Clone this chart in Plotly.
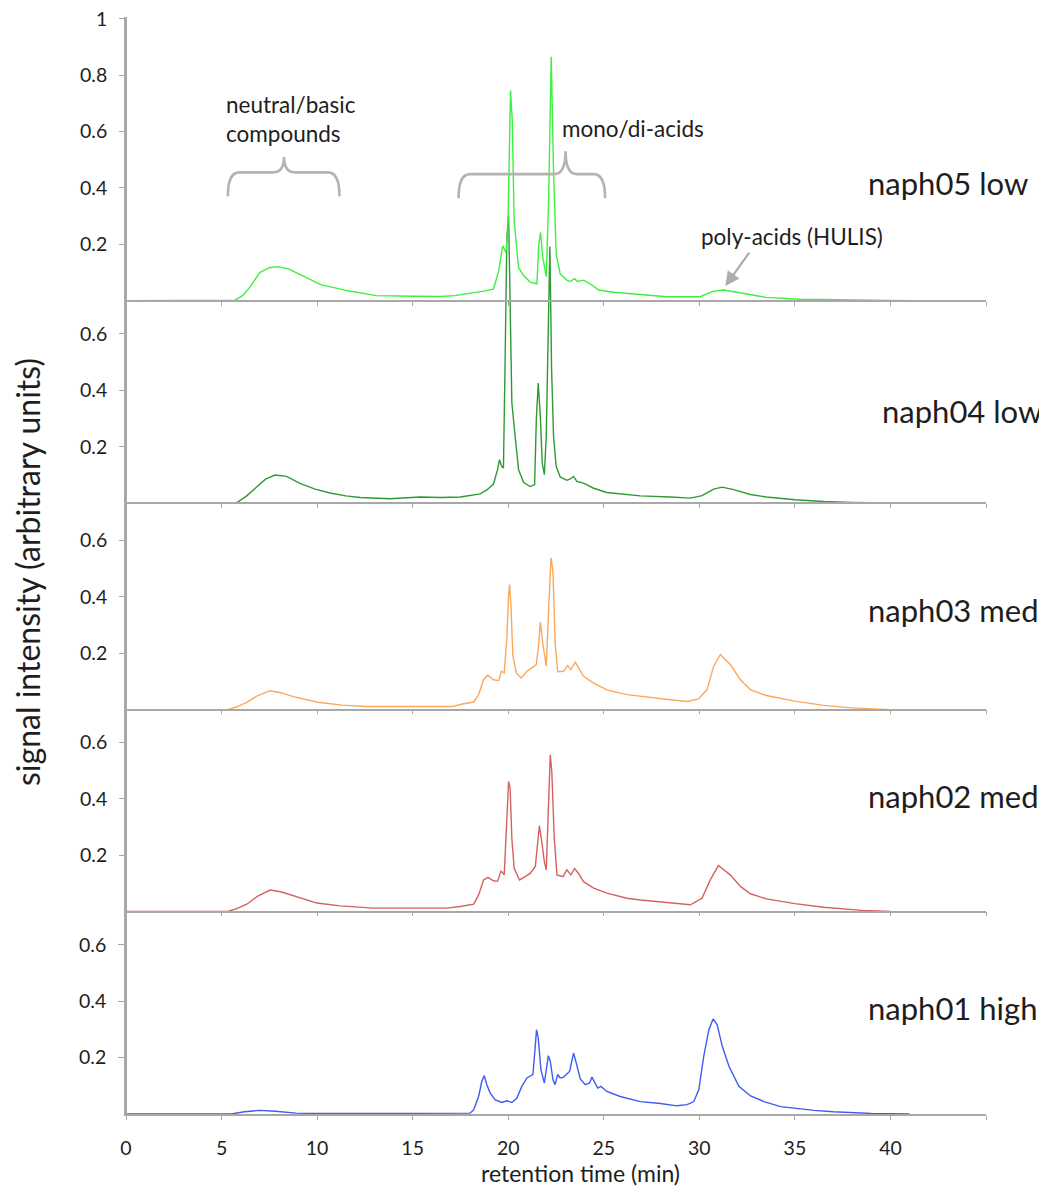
import plotly.graph_objects as go

# ---------------- data ----------------
time_naph05 = [0, 5.0, 5.7, 6.1, 6.5, 7.0, 7.5, 7.96, 8.5, 9.2, 10.2, 11.55, 13.1, 15.0, 16.44, 17.2,
               17.8, 18.19, 18.8, 19.23, 19.5, 19.71, 19.88, 19.98, 20.05, 20.12, 20.21, 20.31, 20.54,
               20.8, 21.15, 21.5, 21.6, 21.69, 21.81, 21.99, 22.11, 22.2, 22.25, 22.37, 22.51, 22.72,
               23.07, 23.24, 23.47, 23.63, 23.94, 24.29, 24.73, 25.51, 26.5, 27.5, 28.3, 30.05, 30.7,
               31.27, 32.1, 33.5, 35.3, 37.5, 39.6, 41.0]
signal_naph05 = [0, 0, 0.002, 0.018, 0.05, 0.1, 0.117, 0.121, 0.113, 0.09, 0.057, 0.036, 0.018, 0.016,
                 0.015, 0.018, 0.024, 0.027, 0.035, 0.041, 0.106, 0.195, 0.171, 0.25, 0.58, 0.745, 0.64,
                 0.284, 0.118, 0.089, 0.066, 0.06, 0.2, 0.242, 0.153, 0.085, 0.343, 0.70, 0.865, 0.46,
                 0.166, 0.095, 0.073, 0.068, 0.078, 0.068, 0.073, 0.06, 0.038, 0.030, 0.024, 0.018,
                 0.014, 0.014, 0.033, 0.038, 0.028, 0.012, 0.005, 0.003, 0.002, 0]

time_naph04 = [0, 5.0, 5.8, 6.3, 6.84, 7.3, 7.8, 8.4, 9.1, 9.9, 10.68, 11.5, 12.25, 13.8, 15.4, 16.44,
               17.5, 18.53, 18.88, 19.23, 19.44, 19.54, 19.66, 19.75, 19.83, 19.93, 20.02, 20.1, 20.19,
               20.36, 20.54, 20.8, 21.15, 21.38, 21.47, 21.57, 21.68, 21.78, 21.89, 21.99, 22.1, 22.18,
               22.27, 22.37, 22.51, 22.72, 23.07, 23.24, 23.42, 23.59, 23.94, 24.47, 25.16, 26.21,
               26.91, 28.48, 29.53, 30.14, 30.75, 31.19, 31.8, 32.67, 33.5, 35.0, 36.5, 38.0, 41.0]
signal_naph04 = [0, 0, 0.002, 0.025, 0.056, 0.085, 0.10, 0.095, 0.07, 0.05, 0.036, 0.026, 0.02, 0.016,
                 0.022, 0.02, 0.022, 0.033, 0.047, 0.068, 0.119, 0.154, 0.13, 0.125, 0.473, 0.946, 1.02,
                 0.71, 0.356, 0.238, 0.119, 0.074, 0.059, 0.066, 0.296, 0.426, 0.308, 0.142, 0.101,
                 0.238, 0.71, 0.91, 0.473, 0.238, 0.13, 0.093, 0.081, 0.086, 0.095, 0.077, 0.071, 0.053,
                 0.038, 0.03, 0.026, 0.022, 0.018, 0.027, 0.05, 0.057, 0.048, 0.031, 0.022, 0.012,
                 0.006, 0.003, 0]

time_naph03 = [0, 5.0, 5.36, 5.8, 6.32, 6.9, 7.54, 8.1, 8.76, 9.4, 10.16, 11.3, 12.6, 15.0, 17.1, 17.6,
               18.19, 18.45, 18.71, 18.92, 19.23, 19.5, 19.64, 19.79, 19.93, 20.02, 20.07, 20.14, 20.24,
               20.42, 20.68, 20.98, 21.24, 21.47, 21.59, 21.68, 21.82, 21.99, 22.11, 22.24, 22.34,
               22.46, 22.59, 22.9, 23.11, 23.28, 23.51, 23.68, 23.94, 24.47, 25.16, 26.21, 26.91,
               28.48, 29.35, 29.96, 30.4, 30.75, 31.1, 31.62, 32.15, 32.67, 33.5, 35.0, 36.5, 38.0, 40.0]
signal_naph03 = [0, 0, 0.001, 0.01, 0.026, 0.05, 0.067, 0.06, 0.046, 0.036, 0.025, 0.016, 0.011, 0.011,
                 0.011, 0.02, 0.027, 0.053, 0.106, 0.122, 0.106, 0.103, 0.136, 0.13, 0.254, 0.408,
                 0.443, 0.372, 0.195, 0.13, 0.112, 0.136, 0.148, 0.16, 0.23, 0.311, 0.23, 0.154, 0.349,
                 0.538, 0.49, 0.23, 0.134, 0.136, 0.157, 0.142, 0.168, 0.148, 0.118, 0.094, 0.07,
                 0.053, 0.047, 0.035, 0.029, 0.038, 0.071, 0.154, 0.195, 0.16, 0.106, 0.071, 0.05,
                 0.03, 0.015, 0.006, 0]

time_naph02 = [0, 5.0, 5.36, 5.8, 6.32, 6.9, 7.54, 8.1, 8.76, 9.99, 11.2, 12.95, 15.0, 16.8, 17.49,
               18.19, 18.45, 18.71, 18.94, 19.23, 19.44, 19.62, 19.79, 19.9, 20.02, 20.1, 20.19, 20.31,
               20.59, 20.89, 21.15, 21.42, 21.54, 21.63, 21.73, 21.89, 21.99, 22.11, 22.2, 22.28,
               22.41, 22.55, 22.87, 23.07, 23.28, 23.47, 23.68, 23.94, 24.47, 25.16, 26.21, 26.91,
               28.48, 29.53, 30.14, 30.57, 31.0, 31.62, 32.15, 32.67, 33.5, 35.0, 36.5, 37.5, 38.5, 40.0]
signal_naph02 = [0, 0, 0.001, 0.01, 0.026, 0.055, 0.076, 0.07, 0.056, 0.03, 0.02, 0.012, 0.012, 0.012,
                 0.018, 0.026, 0.059, 0.112, 0.121, 0.109, 0.107, 0.144, 0.130, 0.319, 0.461, 0.437,
                 0.26, 0.153, 0.112, 0.124, 0.135, 0.16, 0.236, 0.304, 0.26, 0.177, 0.148, 0.378, 0.556,
                 0.497, 0.26, 0.13, 0.124, 0.148, 0.13, 0.153, 0.135, 0.106, 0.083, 0.065, 0.047, 0.041,
                 0.032, 0.024, 0.047, 0.112, 0.163, 0.13, 0.089, 0.063, 0.045, 0.028, 0.015, 0.01,
                 0.004, 0]

time_naph01 = [0, 5.5, 6.2, 7.0, 7.8, 8.9, 10.0, 16.0, 18.0, 18.19, 18.45, 18.62, 18.75, 18.88, 19.06,
               19.32, 19.67, 19.93, 20.19, 20.45, 20.71, 20.98, 21.29, 21.4, 21.48, 21.57, 21.71,
               21.89, 21.99, 22.1, 22.2, 22.34, 22.45, 22.59, 22.72, 22.9, 23.21, 23.33, 23.42, 23.56,
               23.77, 24.03, 24.26, 24.38, 24.5, 24.68, 24.85, 25.16, 25.86, 26.91, 27.96, 28.83,
               29.36, 29.71, 29.97, 30.23, 30.5, 30.72, 30.93, 31.2, 31.55, 32.07, 32.68, 33.38,
               34.25, 35.0, 36.0, 37.0, 38.0, 39.0, 41.0]
signal_naph01 = [0, 0, 0.008, 0.013, 0.01, 0.003, 0.002, 0.002, 0.003, 0.015, 0.062, 0.116, 0.136,
                 0.104, 0.074, 0.05, 0.041, 0.047, 0.041, 0.056, 0.098, 0.128, 0.14, 0.228, 0.299,
                 0.27, 0.157, 0.11, 0.157, 0.207, 0.187, 0.122, 0.104, 0.14, 0.128, 0.131, 0.151,
                 0.187, 0.216, 0.181, 0.124, 0.104, 0.11, 0.131, 0.116, 0.092, 0.098, 0.08, 0.062,
                 0.044, 0.037, 0.029, 0.033, 0.044, 0.086, 0.204, 0.299, 0.337, 0.317, 0.24, 0.169,
                 0.098, 0.064, 0.044, 0.026, 0.02, 0.013, 0.008, 0.004, 0.002, 0]

sample_labels = ["naph05 low", "naph04 low", "naph03 med", "naph02 med", "naph01 high"]
x_tick_values = [0, 5, 10, 15, 20, 25, 30, 35, 40, 45]
x_tick_labels = ["0", "5", "10", "15", "20", "25", "30", "35", "40", ""]
top_y_ticks = [0.2, 0.4, 0.6, 0.8, 1.0]
top_y_labels = ["0.2", "0.4", "0.6", "0.8", "1"]
low_y_ticks = [0.2, 0.4, 0.6]
low_y_labels = ["0.2", "0.4", "0.6"]

# ---------------- styling / layout constants ----------------
colors = ["#3DF03D", "#2E9A33", "#F9A85E", "#D3625F", "#3D5CF2"]
times = [time_naph05, time_naph04, time_naph03, time_naph02, time_naph01]
signals = [signal_naph05, signal_naph04, signal_naph03, signal_naph02, signal_naph01]
offsets = [2.884, 2.166, 1.434, 0.718, 0.0]          # panel baselines (in signal units) top->bottom
label_pos = [(866, 183), (880, 411), (866, 610), (866, 796), (866, 1008)]  # page px (left, middle)

BODY = 8                       # default page body margin around the plot div
PL, PT, PR, PB = 126, 17, 986, 1114   # plot area in page pixels
W, H = 1038, 1179
ML, MT = PL - BODY, PT - BODY
MR, MB = W - (PR - BODY), H - (PB - BODY)
PW, PH = PR - PL, PB - PT
PX_PER_UNIT = 282.0
TOTAL = PH / PX_PER_UNIT

AXIS_COL = "#A8A8A8"
TXT_COL = "#1E1E1E"
FONT = "Lato"


def paper_x(px):
    return (px - PL) / PW


def paper_y(py):
    return (PB - py) / PH


fig = go.Figure()
layout = dict(
    width=W, height=H,
    margin=dict(l=ML, r=MR, t=MT, b=MB, autoexpand=False),
    paper_bgcolor="white", plot_bgcolor="white",
    showlegend=False,
    font=dict(family=FONT, size=18, color=TXT_COL),
)

for i in range(5):
    n = 5 - i
    xa = "x" if n == 1 else f"x{n}"
    ya = "y" if n == 1 else f"y{n}"
    fig.add_trace(go.Scatter(x=times[i], y=signals[i], mode="lines",
                             line=dict(color=colors[i], width=1.4),
                             xaxis=xa, yaxis=ya, name=sample_labels[i],
                             hoverinfo="skip"))
    off = offsets[i]
    is_top = (i == 0)
    yax = dict(
        range=[-off, TOTAL - off], domain=[0, 1],
        tickmode="array",
        tickvals=top_y_ticks if is_top else low_y_ticks,
        ticktext=top_y_labels if is_top else low_y_labels,
        ticks="outside", ticklen=6, tickwidth=1.3, tickcolor=AXIS_COL,
        showline=True, linecolor=AXIS_COL, linewidth=1.6,
        showgrid=False, zeroline=False,
        tickfont=dict(family=FONT, size=19.5, color=TXT_COL),
        ticklabelstandoff=8, ticklabeloverflow="allow",
        automargin=False, fixedrange=True,
    )
    xax = dict(
        range=[0, 45], domain=[0, 1],
        tickmode="array", tickvals=x_tick_values, ticktext=x_tick_labels,
        ticks="outside", ticklen=4, tickwidth=1.3, tickcolor=AXIS_COL,
        showline=True, linecolor=AXIS_COL, linewidth=1.6,
        showgrid=False, zeroline=False,
        tickfont=dict(family=FONT, size=19.5, color=TXT_COL),
        showticklabels=(n == 1), ticklabelstandoff=12, ticklabeloverflow="allow",
        automargin=False, fixedrange=True,
    )
    if n == 1:
        yax.update(anchor="x", side="left")
        xax.update(anchor="y")
        layout["yaxis"] = yax
        layout["xaxis"] = xax
    else:
        yax.update(overlaying="y", anchor="free", position=0, side="left")
        xax.update(overlaying="x", anchor="free", position=off / TOTAL, side="bottom")
        layout[f"yaxis{n}"] = yax
        layout[f"xaxis{n}"] = xax

fig.update_layout(**layout)


def brace(x0, x1, xt, yb, yh, ytip, dx):
    return (f"M {x0},{yb} Q {x0},{yh} {x0+dx},{yh} L {xt-dx},{yh} "
            f"Q {xt},{yh} {xt},{ytip} Q {xt},{yh} {xt+dx},{yh} "
            f"L {x1-dx},{yh} Q {x1},{yh} {x1},{yb}")


brace_style = dict(type="path", xref="x5", yref="y5",
                   line=dict(color="#B3B3B3", width=2.6), layer="above")
fig.add_shape(path=brace(5.33, 11.17, 8.27, 0.37, 0.455, 0.51, 0.6), **brace_style)
fig.add_shape(path=brace(17.4, 25.07, 23.0, 0.363, 0.449, 0.53, 0.6), **brace_style)

ann_font = dict(family=FONT, size=22.5, color=TXT_COL)
fig.add_annotation(x=8.64, y=0.646, xref="x5", yref="y5", text="neutral/basic<br>compounds",
                   showarrow=False, font=ann_font, align="left",
                   xanchor="center", yanchor="middle")
fig.add_annotation(x=26.54, y=0.612, xref="x5", yref="y5", text="mono/di-acids",
                   showarrow=False, font=ann_font, xanchor="center", yanchor="middle")
fig.add_annotation(x=34.87, y=0.229, xref="x5", yref="y5", text="poly-acids (HULIS)",
                   showarrow=False, font=ann_font, xanchor="center", yanchor="middle")
# arrow to the HULIS hump
fig.add_annotation(x=31.36, y=0.052, xref="x5", yref="y5", text="", showarrow=True,
                   ax=25, ay=-35, arrowhead=2, arrowsize=1.3, arrowwidth=2.2,
                   arrowcolor="#ADADAD")

for i, lab in enumerate(sample_labels):
    px, py = label_pos[i]
    fig.add_annotation(x=paper_x(px), y=paper_y(py), xref="paper", yref="paper",
                       text=lab, showarrow=False, xanchor="left", yanchor="middle",
                       font=dict(family=FONT, size=31, color=TXT_COL))

fig.add_annotation(x=paper_x(27), y=paper_y(572), xref="paper", yref="paper",
                   text="signal intensity (arbitrary units)", textangle=-90, showarrow=False,
                   xanchor="center", yanchor="middle",
                   font=dict(family=FONT, size=32, color=TXT_COL))
fig.add_annotation(x=paper_x(580), y=paper_y(1173), xref="paper", yref="paper",
                   text="retention time (min)", showarrow=False,
                   xanchor="center", yanchor="middle", borderpad=0,
                   font=dict(family=FONT, size=23, color=TXT_COL))

fig.write_html("out.html")
